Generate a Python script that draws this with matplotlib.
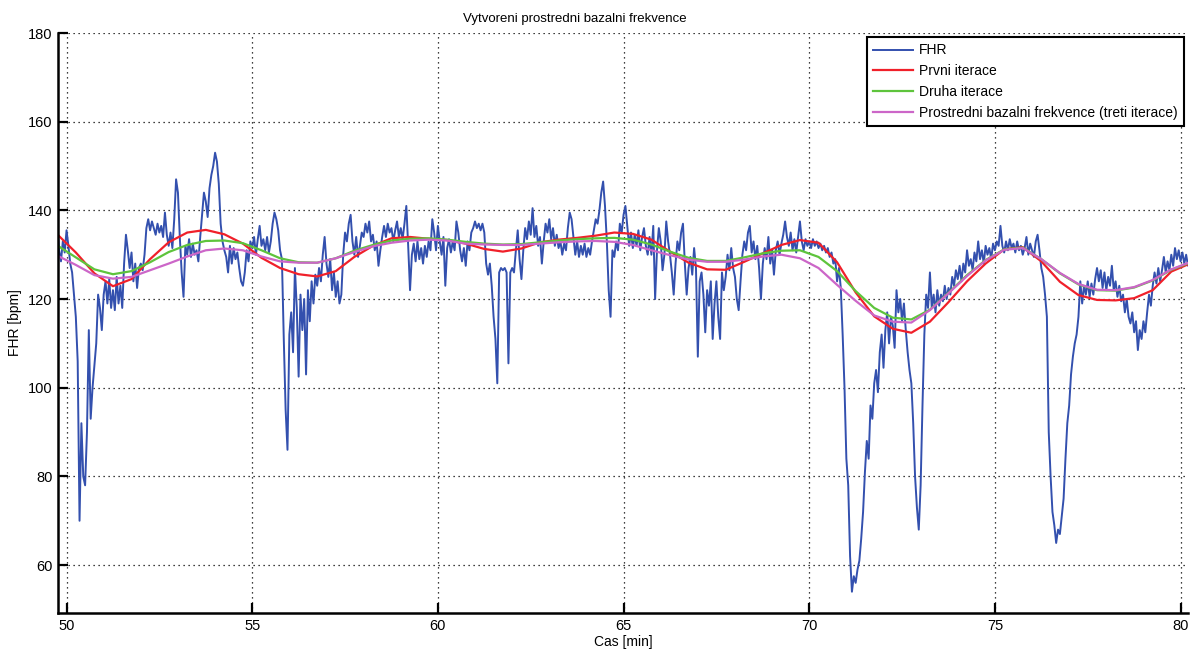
import numpy as np
import matplotlib
matplotlib.use("Agg")
import matplotlib.pyplot as plt

plt.rcParams['font.family'] = ['Liberation Sans', 'DejaVu Sans']

# FHR trace, sampled every 0.05 min starting at 49.70 min (one row per minute)
fhr_start = 49.70
fhr_step = 0.05
fhr = [
    135, 137.5, 131, 128.5, 133, 130.5,
    # 50
    135.5, 132, 128, 126, 121, 116, 106, 70, 92, 80, 78, 90, 113, 93, 100, 105, 110, 121, 118, 113,
    121, 124, 119, 124.5, 118, 122, 117.5, 125, 119, 123, 118, 128, 134.5, 131, 127, 130.5, 124, 128, 122.5, 127,
    128, 126.5, 130, 136, 138, 135.5, 137.5, 136, 134.5, 137, 135, 136.5, 134, 139.5, 134.5, 132, 135, 131.5, 138, 147,
    144, 134, 126, 120.5, 132, 130, 133.5, 129.5, 132.5, 130, 131, 128.5, 134, 139, 144, 142, 138.5, 145, 148, 150,
    153, 151, 146, 137, 133, 131, 129.5, 126, 132, 128, 131.5, 129, 130.5, 127, 124, 123, 126, 131, 128.5, 133,
    # 55
    131.5, 134, 130, 133.5, 136.5, 132, 133.5, 131, 134, 130.5, 133, 137, 139.5, 138, 135.5, 131, 129, 111, 95, 86,
    112, 117, 108, 127, 118, 102.5, 121, 113, 120, 103, 122, 115, 124, 119, 125.5, 123, 127, 124, 130, 134,
    128, 125, 129, 122, 126, 120.5, 124, 119, 121, 130, 135, 133, 137, 139, 133, 130, 134, 129.5, 132, 135,
    134, 137, 135, 137.5, 133, 134.5, 131, 133, 127.5, 131, 134, 136.5, 134, 137, 135, 136, 133, 135.5, 137.5, 134,
    136, 133.5, 137, 141, 132, 122, 130, 132.5, 128.5, 133, 129, 131.5, 128, 132, 129.5, 133, 131, 138, 135, 131,
    # 60
    136.5, 133, 130, 134, 123, 131.5, 133.5, 130.5, 133, 131, 137.5, 135, 131, 128.5, 131.5, 127.5, 133, 131, 135, 136,
    137.5, 136, 137, 135.5, 137, 135, 128, 125.5, 128, 123, 116, 111, 101, 126, 127, 126.5, 127, 126, 105.5, 126,
    127, 126, 131, 135.5, 129, 124.5, 131, 136, 133.5, 137.5, 134.5, 140.5, 134, 136.5, 132, 134, 128, 133, 137, 135,
    138, 133.5, 136, 132, 134.5, 131.5, 133, 130, 132.5, 131, 136, 139.5, 138, 134, 130, 133, 129.5, 132, 130, 132.5,
    129.5, 131.5, 130, 133, 135.5, 138, 137, 140, 144, 146.5, 141, 133, 122, 116, 131, 129.5, 133, 131, 137, 135,
    # 65
    139, 141, 136.5, 132, 135, 131.5, 134.5, 132, 135.5, 131, 134, 136, 132, 130, 134, 130, 136.5, 120, 131, 136,
    133, 126.5, 130, 137.5, 133, 130, 126, 121, 128, 133, 131, 135, 137, 128, 121, 127, 129.5, 125.5, 131.5, 127,
    107, 124, 126, 121, 112.5, 122, 118.5, 124, 111, 119, 124, 116, 111, 126, 122, 125, 130, 126.5, 131.5, 127,
    125, 120, 117.5, 124, 130, 133, 131, 135, 136.5, 130.5, 133, 129, 132, 127, 120, 128, 131.5, 129, 134, 128,
    131, 125.5, 131, 133, 130, 132.5, 134.5, 137.5, 134, 132, 135, 131, 133.5, 130.5, 134, 137.5, 133, 131, 133.5, 132,
    # 70
    133, 131.5, 133.5, 132, 133, 131.5, 132.5, 131, 132, 130.5, 131.5, 129.5, 130.5, 128, 129, 124, 127, 122.5, 112, 100,
    84, 78, 62, 54, 57.5, 56, 59, 61, 66, 72, 81, 88, 84, 96, 93, 101, 104, 99, 108, 112,
    104.5, 113, 117, 110, 116, 114, 109, 122, 117, 120, 115, 119, 113, 108, 104, 101, 92, 80, 73, 68,
    78, 96, 112, 121, 118, 126, 118, 121, 117, 122, 118.5, 121, 119.5, 123, 120, 122.5, 121, 125, 123, 126.5,
    124.5, 127.5, 124, 128, 126, 131, 127.5, 129, 126.5, 130.5, 128.5, 133, 129, 131, 128, 132, 130, 131.5, 129, 132.5,
    # 75
    131, 133, 132, 136.5, 132, 130.5, 133, 131, 133.5, 131.5, 132.5, 130.5, 133, 131, 132, 130, 131.5, 134, 130, 132.5,
    131, 129.5, 133, 134.5, 131, 127, 125, 121, 116, 90, 80, 72, 69, 65, 68, 67, 71, 75, 84, 92,
    96, 103, 107, 110, 112, 116, 124, 119, 123, 121, 124, 120.5, 123.5, 121, 124.5, 127, 124, 126.5, 122.5, 126,
    122, 125, 123, 127.5, 122, 124, 120.5, 123, 119.5, 121, 117, 120, 116, 114.5, 117, 112.5, 115, 108.5, 113, 111,
    115, 112.5, 117, 121, 118.5, 123, 126, 123.5, 127, 124, 126.5, 129.5, 126, 128.5, 126.5, 130, 127.5, 131.5, 129, 131,
    # 80
    128.5, 130.5, 128, 130, 127.5, 129, 128,
]

# baseline estimates, every 0.5 min from 49.75 min
base_start = 49.75
base_step = 0.5
prvni = [
    134.6, 130.5, 125.8, 122.9, 124.5, 129.0, 132.8, 135.0, 135.6, 134.6,
    132.5, 129.3, 127.0, 125.6, 125.1, 126.3, 129.5, 132.0, 133.7, 134.0,
    133.6, 133.3, 132.5, 131.3, 130.7, 131.4, 132.8, 133.4, 133.8, 134.3,
    135.0, 134.7, 133.4, 130.7, 128.2, 126.7, 126.6, 128.4, 130.3, 132.2,
    133.3, 132.7, 128.3, 121.5, 116.1, 113.3, 112.4, 114.9, 119.3, 124.0,
    128.0, 131.2, 131.7, 128.5, 123.9, 120.9, 119.8, 119.7, 120.2, 122.0,
    126.2, 128.0,
]
druha = [
    132.1, 129.4, 126.7, 125.6, 126.3, 128.3, 130.6, 132.2, 133.1, 133.2,
    132.6, 131.0, 129.2, 128.3, 128.2, 129.2, 130.9, 132.2, 133.2, 133.6,
    133.7, 133.4, 132.9, 132.5, 132.3, 132.4, 132.8, 133.2, 133.5, 133.7,
    133.8, 133.4, 132.3, 130.7, 129.3, 128.6, 128.6, 129.4, 130.3, 130.9,
    131.0, 129.5, 126.3, 121.8, 118.0, 115.8, 115.4, 117.6, 121.4, 125.4,
    128.8, 131.2, 131.6, 129.0, 125.8, 123.3, 122.0, 121.9, 122.6, 124.2,
    126.6, 128.2,
]
treti = [
    129.8, 127.7, 125.4, 124.6, 125.0, 126.5, 128.0, 129.6, 131.0, 131.4,
    131.0, 129.6, 128.5, 128.2, 128.2, 129.2, 130.6, 131.9, 132.7, 133.2,
    133.4, 133.2, 132.5, 132.3, 132.2, 132.2, 132.5, 132.8, 133.0, 133.1,
    132.9, 132.2, 131.0, 129.9, 128.9, 128.4, 128.4, 128.9, 129.6, 130.0,
    129.2, 127.0, 123.2, 119.6, 116.3, 114.9, 114.7, 117.5, 121.3, 125.2,
    128.7, 131.1, 131.5, 129.0, 125.9, 123.4, 122.1, 122.0, 122.7, 124.3,
    126.7, 128.3,
]

labels = ["FHR", "Prvni iterace", "Druha iterace",
          "Prostredni bazalni frekvence (treti iterace)"]
colors = ["#3350AE", "#F0202A", "#5EC43C", "#CC66C8"]

t_fhr = fhr_start + fhr_step * np.arange(len(fhr))
t_base = base_start + base_step * np.arange(len(prvni))

fig = plt.figure(figsize=(11.92, 6.57), dpi=100)
ax = fig.add_axes([58 / 1192, 1 - 613 / 657, 1130 / 1192, 580 / 657])

ax.plot(t_fhr, fhr, color=colors[0], lw=1.4, label=labels[0])
ax.plot(t_base, prvni, color=colors[1], lw=1.6, label=labels[1])
ax.plot(t_base, druha, color=colors[2], lw=1.6, label=labels[2])
ax.plot(t_base, treti, color=colors[3], lw=1.6, label=labels[3])

ax.set_xlim(49.77, 80.2)
ax.set_ylim(49.2, 180)
ax.set_xticks(range(50, 81, 5))
ax.set_yticks(range(60, 181, 20))
ax.grid(True, color="black", linestyle=(0, (1, 3)), linewidth=0.9)

for side in ["top", "right"]:
    ax.spines[side].set_visible(False)
for side in ["left", "bottom"]:
    ax.spines[side].set_linewidth(1.8)
ax.tick_params(direction="in", length=7, width=1.6, labelsize=10.5, pad=4)

ax.set_title("Vytvoreni prostredni bazalni frekvence", fontsize=9.5,
             x=(575 - 58) / 1130, pad=8)
ax.set_xlabel("Cas [min]", fontsize=10, labelpad=2)
ax.set_ylabel("FHR [bpm]", fontsize=10, labelpad=4)

leg = ax.legend(loc="upper right", fontsize=10, fancybox=False,
                edgecolor="black", framealpha=1, borderaxespad=0.3,
                handlelength=2.9, handletextpad=0.4, labelspacing=0.5,
                borderpad=0.45)
leg.get_frame().set_linewidth(1.5)

fig.savefig("out.png", dpi=100)
